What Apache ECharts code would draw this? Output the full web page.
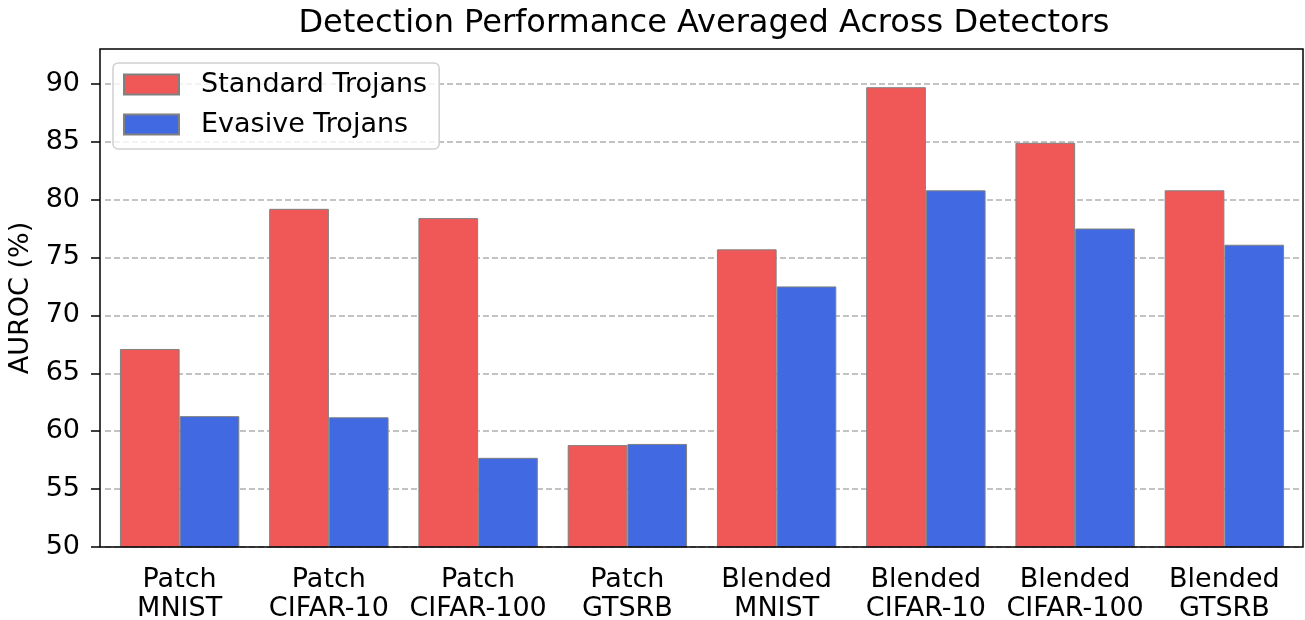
<html>
<head>
<meta charset="utf-8">
<script type="text/javascript" src="https://cdn.jsdelivr.net/npm/echarts@6/dist/echarts.min.js"></script>
<style>
  body { margin: 0; background: #fff; }
  #container { width: 1305px; height: 620px; }
</style>
</head>
<body>
<div id="container"></div>
<script type="text/javascript">
// categories (two-line labels)
var categories = [
    'Patch\nMNIST', 'Patch\nCIFAR-10', 'Patch\nCIFAR-100', 'Patch\nGTSRB',
    'Blended\nMNIST', 'Blended\nCIFAR-10', 'Blended\nCIFAR-100', 'Blended\nGTSRB'
];
var standardTrojans = [67.1, 79.2, 78.4, 58.8, 75.7, 89.7, 84.9, 80.8];
var evasiveTrojans  = [61.3, 61.2, 57.7, 58.9, 72.5, 80.8, 77.5, 76.1];
var yTicks = [50, 55, 60, 65, 70, 75, 80, 85, 90];

var FONT = 'DejaVu Sans';
var myChart = echarts.init(document.getElementById('container'), null, {renderer: 'canvas'});

var barStyle = function (color) {
    return { color: color, borderColor: '#808080', borderWidth: 1 };
};

// matplotlib-like axes box; bars sit inside with a small margin
var frame = { left: 100, top: 49, right: 2, bottom: 73 };

var option = {
    backgroundColor: '#ffffff',
    animation: false,
    title: {
        text: 'Detection Performance Averaged Across Detectors',
        left: 699,
        textAlign: 'center',
        top: 3,
        textStyle: { fontFamily: FONT, fontSize: 32, fontWeight: 'normal', color: '#000' }
    },
    legend: {
        left: 113,
        top: 63,
        orient: 'vertical',
        itemWidth: 55,
        itemHeight: 20,
        itemGap: 13,
        padding: [8, 12, 11, 10],
        borderColor: '#d0d0d0',
        borderWidth: 1.5,
        borderRadius: 5,
        backgroundColor: 'rgba(255,255,255,0.8)',
        icon: 'rect',
        textStyle: { fontFamily: FONT, fontSize: 27, color: '#000', padding: [0, 0, 0, 17] },
        data: ['Standard Trojans', 'Evasive Trojans']
    },
    grid: {
        left: frame.left + 5,
        right: frame.right + 4,
        top: frame.top,
        bottom: frame.bottom,
        outerBoundsMode: 'none'
    },
    graphic: [{
        type: 'rect',
        z: 10,
        silent: true,
        shape: { x: frame.left, y: frame.top, width: 1305 - frame.left - frame.right, height: 620 - frame.top - frame.bottom },
        style: { fill: null, stroke: '#000', lineWidth: 1.5 }
    }],
    xAxis: {
        type: 'category',
        data: categories,
        axisLine: { show: false },
        axisTick: { show: false },
        axisLabel: {
            fontFamily: FONT, fontSize: 27, color: '#000',
            lineHeight: 29, margin: 18, interval: 0
        }
    },
    yAxis: {
        type: 'value',
        min: 50,
        max: 93,
        interval: 5,
        offset: 5,
        name: 'AUROC (%)',
        nameLocation: 'middle',
        nameGap: 58,
        nameTextStyle: { fontFamily: FONT, fontSize: 27, color: '#000' },
        axisLine: { show: false },
        axisTick: { show: true, length: 9, lineStyle: { color: '#000', width: 1.5 }, customValues: yTicks },
        axisLabel: {
            fontFamily: FONT, fontSize: 27, color: '#000', margin: 20,
            customValues: yTicks
        },
        splitLine: {
            show: true,
            lineStyle: { color: '#b0b0b0', width: 1.5, type: [6, 3] }
        }
    },
    series: [
        {
            name: 'Standard Trojans',
            type: 'bar',
            data: standardTrojans,
            barWidth: '40%',
            barGap: '0%',
            itemStyle: barStyle('#F05858')
        },
        {
            name: 'Evasive Trojans',
            type: 'bar',
            data: evasiveTrojans,
            barWidth: '40%',
            barGap: '0%',
            itemStyle: barStyle('#4169E1')
        }
    ]
};

myChart.setOption(option);
</script>
</body>
</html>
